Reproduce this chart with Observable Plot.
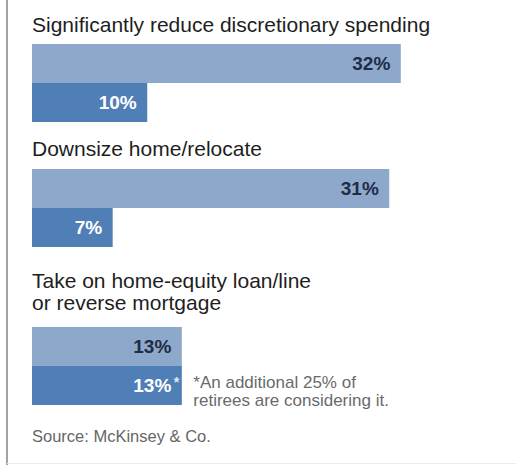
<!DOCTYPE html>
<html><head><meta charset="utf-8">
<script src="https://cdn.jsdelivr.net/npm/d3@7"></script>
<script src="https://cdn.jsdelivr.net/npm/@observablehq/plot@0.6"></script>
<style>
body{margin:0;background:#fff;}
#chart{position:relative;width:516px;height:468px;font-family:"Liberation Sans",Arial,sans-serif;overflow:hidden;background:#fff;}
.frame-left{position:absolute;left:6px;top:0;width:2px;height:465px;background:#a3a3a3;}
.frame-bottom{position:absolute;left:7px;top:463px;width:509px;height:1px;background:#ebebeb;}
.title{position:absolute;left:32px;font-size:21px;line-height:22px;color:#1e1e1e;white-space:pre;}
.plot{position:absolute;left:0;}
.source{position:absolute;left:32px;top:428px;font-size:16.5px;line-height:16px;color:#666;}
</style>
</head><body>
<div id="chart">
  <div class="frame-left"></div>
  <div class="frame-bottom"></div>
</div>
<script>
// ---- data ----
const categories = [
  "Significantly reduce discretionary spending",
  "Downsize home/relocate",
  "Take on home-equity loan/line\nor reverse mortgage"
];
const seriesNames = ["Pre-retirees", "Retirees"];
const preRetirees = [32, 31, 13];
const retirees = [10, 7, 13];
const footnoteIndex = 2;
const footnoteText = "*An additional 25% of\nretirees are considering it.";
const sourceText = "Source: McKinsey & Co.";

// ---- layout ----
const titleTops = [14, 138, 270];
const plotTops = [44, 168, 326];
const plotHeights = [78, 79, 79];
const colors = ["#8ea8cb", "#4f7fb6"];
const labelColors = ["#1e2d45", "#ffffff"];
const font = '"Liberation Sans", Arial, sans-serif';

const chart = document.getElementById("chart");

categories.forEach((cat, i) => {
  const t = document.createElement("div");
  t.className = "title";
  t.style.top = titleTops[i] + "px";
  t.textContent = cat;
  chart.appendChild(t);

  const rows = [
    {series: seriesNames[0], value: preRetirees[i]},
    {series: seriesNames[1], value: retirees[i]}
  ];
  const marks = [
    Plot.barX(rows, {x: "value", y: "series", fill: "series"}),
    Plot.text(rows, {
      x: "value", y: "series", text: d => d.value + "%",
      textAnchor: "end", dx: -11, fontSize: 19, fontWeight: "bold",
      fill: d => labelColors[seriesNames.indexOf(d.series)]
    })
  ];
  if (i === footnoteIndex) {
    const r = [rows[1]];
    marks.push(Plot.text(r, {
      x: "value", y: "series", text: () => "*", textAnchor: "end",
      dx: -3, dy: -3, fontSize: 14, fontWeight: "bold", fill: "#dfe8f3"
    }));
    marks.push(Plot.text(r, {
      x: "value", y: "series", text: () => footnoteText, textAnchor: "start",
      lineAnchor: "top", lineHeight: 1.06, dx: 11, dy: -10.5, fontSize: 17, fill: "#6a6a6a"
    }));
  }
  const p = Plot.plot({
    width: 516, height: plotHeights[i],
    marginLeft: 32, marginRight: 23, marginTop: 0, marginBottom: 0,
    style: {fontFamily: font, background: "transparent", overflow: "visible"},
    x: {domain: [0, 40], axis: null},
    y: {domain: seriesNames, padding: 0, axis: null},
    color: {domain: seriesNames, range: colors},
    marks
  });
  p.classList.add("plot");
  p.style.top = plotTops[i] + "px";
  chart.appendChild(p);
});

const s = document.createElement("div");
s.className = "source";
s.textContent = sourceText;
chart.appendChild(s);
</script>
</body></html>
